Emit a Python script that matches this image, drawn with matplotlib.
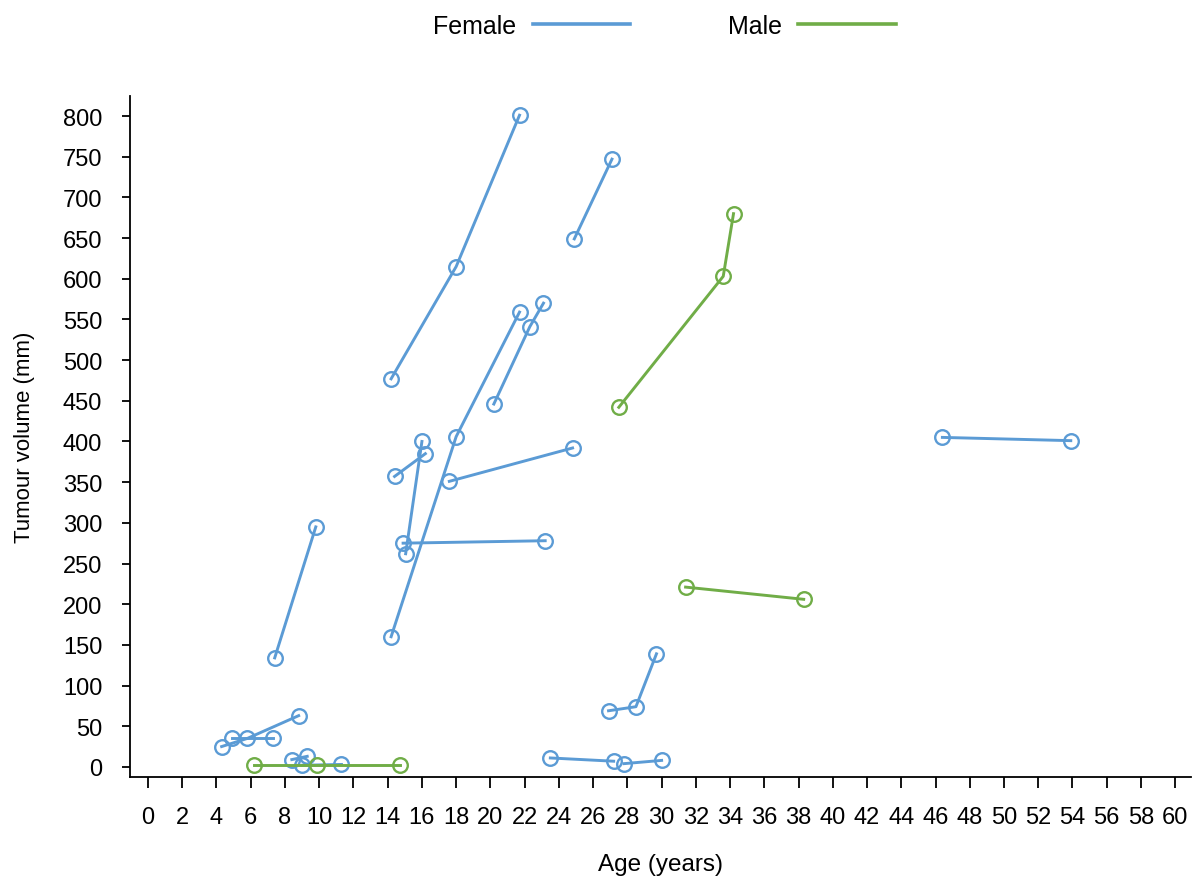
import matplotlib
matplotlib.use("Agg")
import matplotlib.pyplot as plt
from matplotlib.lines import Line2D

plt.rcParams['font.family'] = ['Liberation Sans', 'DejaVu Sans']

# Colours
female_blue = '#5b9bd5'
male_green = '#70ad47'

# Data: one list per patient (age in years, tumour volume)
female_ages = [
    [4.3, 5.8, 8.8], [4.9, 7.3], [8.4, 9.3], [9.0, 11.3], [7.4, 9.8],
    [14.2, 18.0, 21.7], [14.2, 18.0, 21.7], [14.4, 16.2], [14.9, 23.2],
    [15.05, 16.0], [17.6, 24.8], [20.2, 22.3, 23.1], [24.9, 27.1],
    [23.5, 27.2], [27.8, 30.0], [26.9, 28.5, 29.7], [46.4, 53.9],
]
female_volumes = [
    [25, 35, 63], [35, 35], [9, 13], [2, 3], [134, 295],
    [160, 406, 559], [477, 615, 801], [357, 385], [275, 278],
    [262, 400], [351, 392], [446, 541, 570], [649, 747],
    [11, 7], [4, 8], [69, 74, 139], [405, 401],
]
male_ages = [[6.2, 9.9, 14.7], [27.5, 33.6, 34.2], [31.4, 38.3]]
male_volumes = [[2, 2, 2], [442, 603, 680], [221, 206]]

x_ticks = list(range(0, 61, 2))
y_ticks = list(range(0, 801, 50))

fig = plt.figure(figsize=(11.93, 8.79), dpi=100)
ax = fig.add_axes([0.109, 0.115, 0.889, 0.775])

for ages, vols in zip(female_ages, female_volumes):
    ax.plot(ages, vols, color=female_blue, linewidth=2.1, marker='o',
            markersize=10.5, markerfacecolor='none', markeredgewidth=1.7)
for ages, vols in zip(male_ages, male_volumes):
    ax.plot(ages, vols, color=male_green, linewidth=2.1, marker='o',
            markersize=10.5, markerfacecolor='none', markeredgewidth=1.7)

ax.set_xlim(-1.05, 60.9)
ax.set_ylim(-12.3, 825)
ax.set_xticks(x_ticks)
ax.set_yticks(y_ticks)
ax.set_xticklabels([str(t) for t in x_ticks], family=['Liberation Sans Narrow', 'Liberation Sans'],
                   fontsize=17)
ax.tick_params(axis='x', length=8, width=1.3, pad=13)
ax.tick_params(axis='y', length=6, width=1.3, pad=14, labelsize=17)
ax.spines['top'].set_visible(False)
ax.spines['right'].set_visible(False)
ax.spines['left'].set_linewidth(1.3)
ax.spines['bottom'].set_linewidth(1.3)

ax.set_xlabel('Age (years)', fontsize=17.5, labelpad=18)
ax.set_ylabel('Tumour volume (mm)', fontsize=16, labelpad=20)

handles = [Line2D([], [], color=female_blue, linewidth=2.6),
           Line2D([], [], color=male_green, linewidth=2.6)]
fig.legend(handles, ['Female', 'Male'], loc='center', bbox_to_anchor=(0.557, 0.969),
           ncol=2, frameon=False, markerfirst=False, fontsize=18,
           handlelength=3.9, handletextpad=0.65, columnspacing=3.9)

fig.savefig('out.png', dpi=100)
